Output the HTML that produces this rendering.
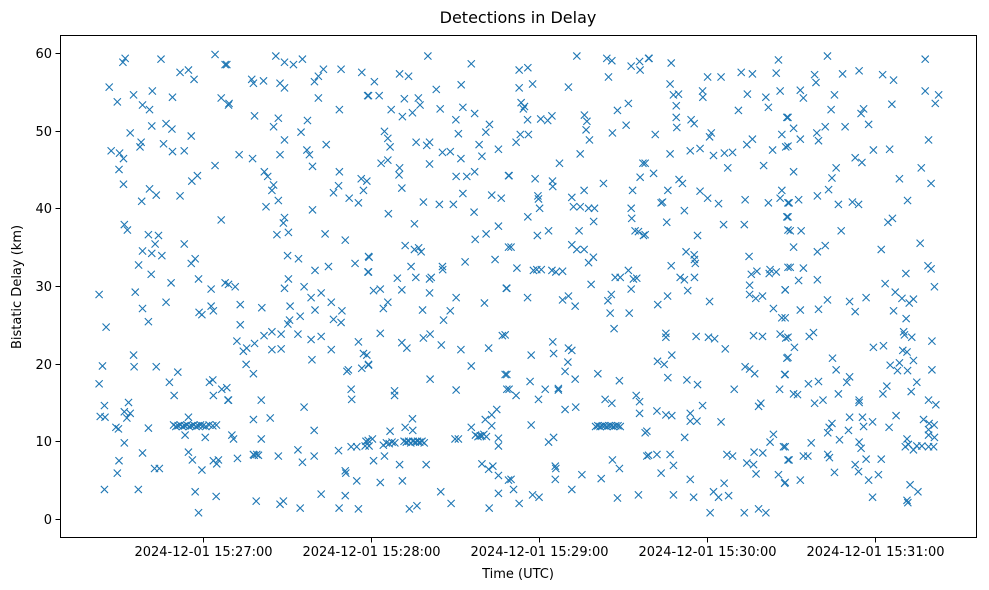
<!DOCTYPE html>
<html><head><meta charset="utf-8"><style>
html,body{margin:0;padding:0;background:#fff;}
svg{display:block;font-family:"DejaVu Sans","Liberation Sans",sans-serif;}
</style></head><body>
<svg id="chart" width="989" height="590" viewBox="0 0 989 590" xmlns="http://www.w3.org/2000/svg">
<rect x="0" y="0" width="989" height="590" fill="#fff"/>
<text x="518" y="23" text-anchor="middle" font-size="16" fill="#000">Detections in Delay</text>
<text x="518" y="578" text-anchor="middle" font-size="13" fill="#000">Time (UTC)</text>
<text x="21" y="287" text-anchor="middle" font-size="13" fill="#000" transform="rotate(-90 21 287)">Bistatic Delay (km)</text>
<g id="marks"></g>
<g id="axes"></g>
<rect x="60.5" y="35.5" width="916" height="502" fill="none" stroke="#000" stroke-width="1"/>
</svg>
<script>
const xTickSeconds = [60, 120, 180, 240, 300];
const xTickLabels = ["2024-12-01 15:27:00","2024-12-01 15:28:00","2024-12-01 15:29:00","2024-12-01 15:30:00","2024-12-01 15:31:00"];
const yTickValues = [0, 10, 20, 30, 40, 50, 60];
const yTickLabels = ["0","10","20","30","40","50","60"];

const segmentA = [[32.2,59.3],[31.4,58.8],[45.0,59.2],[64.3,59.8],[67.9,58.5],[51.8,57.5],[54.8,57.8],[56.8,56.6],[26.5,55.6],[29.4,53.7],[35.2,54.6],[38.4,53.3],[41.9,55.1],[40.9,52.7],[49.1,54.3],[66.5,54.2],[69.1,53.3],[34.0,49.7],[41.7,50.6],[46.8,50.9],[48.9,50.2],[55.8,49.3],[37.9,48.5],[37.5,47.9],[45.9,48.3],[49.1,47.3],[53.3,47.4],[27.2,47.4],[30.2,47.1],[31.6,46.4],[30.0,45.0],[64.3,45.5],[31.6,43.1],[58.0,44.2],[56.0,43.5],[40.9,42.5],[43.3,41.7],[38.1,40.9],[51.8,41.6],[66.5,38.5],[31.9,37.9],[33.0,37.2],[40.5,36.6],[44.1,36.5],[42.9,35.4],[38.4,34.5],[41.7,34.2],[45.3,33.9],[53.3,35.4],[37.0,32.7],[41.5,31.5],[57.2,33.5],[55.8,32.9],[58.4,30.9],[48.6,30.4],[62.9,29.6],[67.9,30.4],[22.9,28.9],[35.8,29.2],[46.8,27.9],[38.4,27.1],[62.9,27.4],[63.7,26.8],[58.6,26.6],[59.6,26.3],[40.5,25.4],[25.4,24.7],[35.2,21.1],[24.1,19.7],[35.4,19.6],[43.3,19.6],[51.0,18.9],[22.9,17.4],[48.0,17.6],[62.3,17.6],[63.5,17.9],[66.7,16.7],[49.7,15.9],[63.7,15.9],[68.9,15.3],[24.8,14.6],[33.4,15.0],[23.3,13.2],[25.0,13.1],[31.9,13.8],[34.0,13.6],[32.8,13.0],[28.9,11.8],[29.8,11.6],[40.5,11.7],[54.8,13.1],[53.6,10.8],[60.8,10.5],[31.9,9.8],[38.4,8.5],[54.8,8.6],[56.2,7.6],[63.7,7.5],[65.5,7.6],[64.9,7.1],[30.0,7.5],[29.4,5.9],[42.7,6.5],[44.4,6.5],[59.6,6.3],[24.8,3.8],[36.9,3.8],[57.2,3.5],[64.7,2.9],[58.4,0.8],
[49.5,12.1],[50.3,11.9],[51.1,12.0],[51.9,12.1],[52.7,11.9],[53.5,12.0],[54.3,12.1],[55.1,11.9],[55.9,12.0],[56.7,12.1],[57.5,11.9],[58.3,12.0],[59.1,12.1],[60.0,12.0],[61.0,11.9],[62.2,12.1],[63.5,12.0],[64.8,12.1]];

const segmentB = [[86.0,59.6],[89.1,58.8],[92.3,58.5],[95.5,59.2],[103.0,57.9],[109.3,57.9],[116.7,57.5],[68.5,58.5],[77.4,56.6],[78.0,56.1],[81.6,56.4],[87.5,56.1],[89.1,55.5],[99.8,56.3],[101.2,57.0],[101.2,54.2],[118.8,54.5],[69.3,53.5],[108.7,52.7],[78.4,51.9],[86.9,51.6],[85.2,50.5],[97.3,51.3],[95.0,49.8],[89.1,48.8],[104.0,48.2],[72.9,46.9],[77.7,46.4],[87.5,46.9],[97.1,47.5],[98.0,46.9],[99.1,45.4],[81.9,44.7],[83.1,44.1],[85.2,43.0],[84.6,42.3],[86.9,41.0],[82.5,40.2],[108.7,44.7],[108.4,42.9],[106.6,42.0],[112.2,41.3],[115.5,40.7],[116.5,43.8],[117.3,42.3],[99.1,39.8],[89.1,38.8],[88.7,38.1],[90.5,36.9],[86.4,36.6],[103.6,36.7],[110.8,35.9],[90.2,33.9],[94.1,33.5],[100.0,32.0],[104.8,32.5],[114.3,32.9],[119.1,33.8],[118.9,31.8],[69.1,30.2],[71.5,29.9],[90.5,30.9],[89.1,29.7],[96.1,29.9],[98.6,28.5],[102.2,29.1],[105.8,27.9],[73.3,27.6],[81.0,27.2],[91.1,27.4],[100.0,26.9],[109.6,26.8],[106.6,25.7],[109.3,25.3],[94.7,26.1],[90.9,25.6],[90.3,25.1],[73.3,25.0],[84.6,24.1],[81.8,23.6],[87.9,23.8],[93.9,23.8],[98.6,23.1],[102.2,23.5],[72.1,22.9],[78.4,22.6],[74.4,21.6],[75.6,22.0],[84.6,21.8],[87.9,21.9],[105.8,21.8],[115.5,22.8],[117.3,21.3],[98.9,20.5],[75.4,19.9],[78.0,18.7],[111.4,19.0],[111.9,19.2],[116.7,19.4],[119.1,19.9],[68.5,16.9],[69.1,15.3],[112.9,16.7],[113.1,15.4],[80.8,15.3],[96.1,14.4],[78.0,12.8],[84.0,13.0],[70.3,10.8],[70.9,10.3],[80.8,10.3],[99.7,11.4],[72.3,7.8],[78.0,8.3],[79.2,8.3],[86.9,8.1],[93.9,8.9],[95.5,7.3],[99.7,8.1],[108.4,8.8],[112.9,9.3],[114.9,9.3],[117.9,9.4],[119.3,9.4],[110.8,6.2],[111.0,5.9],[114.9,4.9],[79.0,2.3],[87.5,1.9],[88.7,2.3],[94.7,1.4],[102.2,3.2],[110.8,3.0],[108.6,1.4],[115.5,1.3],[78.3,8.2],[79.8,8.2]];

const segmentC = [[140.3,59.6],[155.8,58.6],[130.2,57.3],[133.4,57.0],[121.2,56.3],[119.1,54.5],[122.9,54.5],[143.3,55.3],[152.2,55.9],[131.9,54.1],[136.9,54.2],[137.5,53.3],[127.2,52.7],[131.2,51.8],[134.8,52.3],[144.7,52.8],[152.8,53.0],[157.0,52.2],[150.3,51.4],[162.3,50.8],[161.0,49.8],[124.8,49.9],[126.0,49.0],[126.8,47.9],[151.2,49.6],[136.1,48.5],[139.9,48.1],[140.9,48.5],[158.6,48.2],[165.5,47.6],[145.5,47.2],[148.3,47.3],[152.1,46.4],[159.6,46.7],[123.6,45.8],[126.0,46.2],[130.2,45.2],[130.0,44.3],[131.0,42.6],[140.9,45.7],[150.4,44.1],[154.2,44.1],[157.0,44.7],[118.5,43.5],[169.1,44.2],[152.8,41.9],[163.1,41.7],[166.5,41.3],[138.7,40.8],[144.4,40.5],[149.4,40.5],[156.8,39.5],[126.2,39.3],[135.5,38.0],[157.2,36.0],[161.1,36.7],[165.5,37.7],[132.2,35.2],[135.5,34.7],[137.0,34.9],[137.9,34.4],[119.3,33.7],[134.3,32.5],[145.5,32.5],[145.6,32.1],[153.6,33.1],[164.3,33.4],[169.1,35.0],[119.1,31.8],[129.4,31.0],[136.0,31.1],[140.9,30.9],[141.5,31.1],[131.0,29.5],[140.9,29.1],[120.9,29.4],[123.3,29.6],[126.0,27.9],[124.4,27.1],[150.4,28.5],[148.3,26.8],[145.9,25.6],[138.4,26.9],[160.5,27.8],[168.3,29.7],[123.3,23.9],[131.0,22.7],[132.8,22.0],[138.7,23.3],[141.1,23.8],[145.1,22.4],[152.1,21.8],[162.0,22.0],[166.9,23.6],[118.5,21.1],[119.1,19.8],[155.8,19.7],[141.1,18.0],[128.4,16.5],[128.4,15.9],[150.4,16.6],[167.9,18.6],[168.5,16.7],[164.9,14.1],[163.1,13.4],[160.8,12.8],[155.8,11.8],[134.8,12.9],[132.2,11.8],[134.9,11.4],[126.8,11.3],[163.1,12.0],[165.5,10.4],[165.5,9.4],[120.5,10.3],[124.4,9.5],[150.0,10.3],[151.2,10.3],[159.6,10.7],[120.9,7.5],[124.8,8.1],[130.2,7.0],[139.7,7.0],[159.6,7.1],[163.5,6.8],[162.0,6.4],[165.5,5.6],[169.1,5.0],[123.3,4.7],[131.2,4.9],[144.9,3.5],[148.6,2.0],[165.5,3.3],[162.2,1.4],[133.7,1.3],[136.4,1.7],
[118.2,10.0],[119.0,10.1],[125.5,9.8],[126.5,9.7],[127.5,9.9],[128.5,9.8],[131.8,10.0],[132.6,9.9],[133.4,10.0],[134.2,9.8],[135.0,10.0],[135.8,9.9],[136.6,10.0],[137.4,9.9],[138.2,10.0],[139.0,9.8],[157.3,10.8],[158.2,10.6],[159.0,10.7],[160.3,10.9],[161.2,10.6]];

const segmentD = [[193.5,59.6],[204.2,59.3],[206.0,59.0],[172.9,57.8],[176.0,58.1],[212.9,58.3],[215.9,58.9],[216.1,57.8],[219.1,59.3],[204.8,56.9],[172.9,55.5],[177.7,56.0],[190.5,55.6],[173.6,53.6],[174.8,53.1],[174.4,52.8],[175.9,51.4],[180.6,51.5],[183.1,51.3],[184.6,51.9],[196.2,52.0],[197.1,51.2],[196.8,50.1],[198.0,48.8],[208.0,52.6],[211.9,53.5],[211.1,50.7],[206.2,49.7],[173.3,49.5],[176.2,49.5],[171.8,48.5],[194.7,47.0],[187.3,45.8],[217.1,45.8],[169.3,44.2],[178.6,43.8],[184.8,43.5],[184.9,42.8],[196.1,42.3],[203.0,43.2],[216.1,44.0],[213.4,42.3],[179.6,41.6],[179.8,41.2],[180.2,40.0],[191.7,41.4],[192.3,40.2],[194.7,40.2],[197.7,40.0],[199.8,40.0],[199.5,38.3],[212.9,40.0],[213.1,38.7],[176.0,38.9],[179.4,36.5],[183.4,37.1],[194.3,37.1],[214.3,37.1],[215.5,37.0],[217.3,36.5],[170.0,35.0],[191.7,35.3],[193.5,34.7],[196.1,34.7],[199.4,33.7],[197.7,33.0],[172.1,32.3],[178.0,32.0],[179.2,32.1],[180.8,32.1],[184.6,32.0],[186.0,31.8],[188.4,31.9],[207.2,31.1],[209.0,31.1],[211.9,32.0],[213.7,30.9],[214.9,31.0],[168.5,29.7],[198.6,30.2],[212.9,29.6],[175.9,28.5],[188.4,28.2],[190.5,28.7],[192.9,27.4],[205.8,28.9],[204.6,28.1],[205.4,26.5],[212.2,26.5],[206.8,24.5],[167.9,23.7],[184.9,22.8],[185.2,21.3],[177.2,21.1],[190.5,22.0],[191.7,21.7],[190.3,20.2],[189.3,19.0],[192.9,18.0],[201.0,18.7],[208.7,17.8],[168.5,18.6],[169.3,16.7],[171.8,15.9],[176.8,17.7],[182.2,16.7],[186.9,16.8],[179.8,15.4],[186.9,16.6],[189.3,14.1],[193.1,14.4],[203.6,15.4],[206.0,14.9],[214.7,15.9],[215.9,15.1],[215.9,13.6],[177.2,12.1],[185.2,10.5],[183.4,9.9],[217.9,11.1],[218.5,8.1],[206.2,7.6],[208.7,6.5],[185.8,6.8],[186.0,6.5],[185.8,5.1],[195.3,5.7],[202.2,5.2],[170.0,5.1],[170.9,3.8],[172.9,2.0],[177.7,3.1],[180.0,2.8],[191.7,3.8],[208.0,2.7],[215.5,3.1],
[200.2,11.9],[201.0,12.0],[201.8,11.9],[202.6,12.0],[203.4,12.0],[204.2,11.9],[205.0,12.0],[205.8,12.0],[206.6,11.9],[207.4,12.0],[208.2,12.0],[209.0,11.9]];

const segmentE = [[219.3,59.3],[227.2,58.7],[265.5,59.1],[226.8,56.0],[240.2,56.9],[245.0,56.9],[252.2,57.5],[256.2,57.3],[264.7,57.4],[228.0,54.6],[229.8,54.7],[229.0,53.2],[238.4,55.1],[238.5,54.3],[254.4,54.7],[261.0,54.3],[261.9,53.0],[266.1,55.1],[251.2,52.6],[229.0,51.7],[229.2,50.4],[234.3,51.4],[235.4,50.9],[268.5,51.7],[221.5,49.5],[241.5,49.7],[240.9,49.2],[256.2,48.9],[254.2,48.2],[266.7,49.5],[268.1,47.9],[226.8,47.0],[234.0,47.4],[237.5,47.7],[242.3,46.8],[246.2,47.1],[249.1,47.2],[263.4,47.5],[217.9,45.8],[220.9,44.5],[247.4,45.2],[260.2,45.5],[230.0,43.7],[231.2,43.2],[226.0,42.3],[237.5,42.2],[240.2,41.3],[223.6,40.7],[224.1,40.8],[244.1,40.6],[253.6,41.1],[261.9,40.7],[266.7,42.3],[266.1,41.3],[268.9,40.7],[231.9,39.7],[225.6,38.2],[245.9,37.9],[253.3,37.9],[268.5,38.9],[217.9,36.6],[236.6,36.5],[268.9,37.2],[232.5,34.4],[235.4,34.0],[235.5,33.4],[235.8,32.9],[227.2,32.6],[255.0,33.8],[255.8,31.5],[257.8,31.9],[262.5,32.1],[264.7,31.8],[262.2,31.6],[268.9,32.4],[230.4,31.1],[231.9,30.8],[235.5,31.1],[233.1,29.4],[255.2,30.1],[255.2,28.9],[257.4,28.4],[259.8,28.7],[263.7,27.1],[266.7,25.9],[267.9,29.5],[225.9,28.7],[222.4,27.6],[240.9,28.0],[225.3,23.9],[225.3,23.4],[236.1,23.5],[240.5,23.4],[242.7,23.2],[246.5,21.9],[256.6,23.6],[259.8,23.5],[266.1,23.8],[268.1,23.3],[227.4,21.1],[222.3,20.3],[224.7,19.9],[226.0,18.2],[268.5,20.7],[253.6,19.6],[255.2,19.3],[257.0,18.7],[267.7,18.6],[232.8,17.9],[236.6,17.3],[249.7,16.7],[265.9,16.7],[238.4,14.6],[222.1,13.9],[225.3,13.4],[227.4,13.3],[234.0,13.6],[234.0,12.6],[236.4,12.6],[245.0,12.5],[258.4,14.5],[259.2,14.9],[218.5,11.3],[232.0,10.5],[263.7,10.9],[262.5,9.9],[267.3,9.3],[219.1,8.2],[222.1,8.3],[226.8,8.3],[228.0,6.9],[223.6,5.9],[247.1,8.3],[249.1,8.1],[256.8,8.6],[259.9,8.5],[254.2,7.2],[256.6,7.0],[257.5,5.8],[265.5,5.7],[267.7,4.6],[268.9,7.6],[234.0,5.1],[246.1,4.6],[228.0,3.1],[235.2,2.8],[242.3,3.5],[244.1,2.8],[247.7,3.0],[241.1,0.8],[253.3,0.8],[258.4,1.3],[261.0,0.8]];

const segmentF = [[283.0,59.6],[317.9,59.2],[278.4,57.2],[278.9,56.2],[288.4,57.3],[294.3,57.7],[302.7,57.2],[306.6,56.5],[273.3,55.2],[274.4,54.2],[285.5,54.6],[317.9,55.1],[322.7,54.6],[321.5,53.5],[306.0,53.4],[284.3,52.7],[295.9,52.8],[295.0,52.2],[268.9,51.7],[270.9,50.3],[279.2,49.7],[279.8,48.7],[282.2,50.5],[289.3,50.5],[297.7,50.8],[273.3,48.9],[268.9,48.0],[319.1,48.8],[299.4,47.5],[305.2,47.6],[292.9,46.5],[295.3,45.9],[286.1,45.2],[284.6,43.9],[270.9,44.7],[308.7,43.8],[316.5,45.2],[320.0,43.2],[283.4,42.4],[279.4,41.6],[272.7,41.1],[269.3,40.7],[286.9,40.5],[291.9,40.8],[294.1,40.5],[311.6,41.0],[268.9,38.9],[304.6,38.2],[306.2,38.7],[269.7,37.1],[273.6,37.1],[287.9,37.1],[270.9,35.0],[279.4,34.4],[282.2,35.2],[302.2,34.7],[316.1,35.5],[269.7,32.4],[274.4,32.3],[311.0,31.6],[318.9,32.6],[320.0,32.2],[272.7,30.7],[279.4,30.8],[267.9,29.5],[303.6,30.3],[307.2,29.2],[309.6,28.4],[313.7,28.3],[312.2,27.8],[321.2,29.9],[283.0,28.2],[290.9,28.0],[296.8,28.5],[273.3,26.9],[279.8,27.0],[292.9,26.7],[306.6,26.8],[311.1,25.8],[267.9,25.9],[268.9,23.4],[271.2,22.1],[276.5,23.5],[278.0,24.0],[299.4,22.1],[303.0,22.3],[310.2,24.1],[310.5,23.7],[313.1,23.4],[320.3,22.9],[309.9,21.7],[311.4,21.5],[268.9,20.8],[284.8,20.7],[286.1,19.2],[290.9,18.3],[289.9,17.6],[305.4,19.8],[308.7,20.1],[313.7,20.4],[308.0,19.1],[311.6,19.1],[320.3,19.2],[267.9,18.6],[276.2,17.4],[279.8,17.7],[314.9,17.6],[312.9,16.4],[304.2,17.1],[302.8,16.1],[286.9,16.1],[270.9,16.1],[272.3,16.0],[278.4,14.9],[281.4,15.3],[294.3,15.3],[294.3,15.0],[319.1,15.3],[321.7,14.7],[290.9,13.1],[295.5,13.1],[299.1,12.5],[307.5,13.3],[284.6,12.3],[283.6,11.8],[283.1,11.1],[290.5,11.4],[295.9,11.9],[305.0,11.8],[317.3,12.8],[319.3,12.3],[321.1,12.1],[319.1,11.5],[321.2,10.5],[319.1,10.8],[287.3,10.2],[294.3,9.9],[295.0,9.1],[277.2,9.8],[311.4,10.3],[310.8,9.3],[311.9,9.6],[313.7,8.9],[314.9,9.4],[316.7,9.4],[319.1,9.3],[320.9,9.3],[267.9,9.3],[269.3,7.6],[274.4,8.1],[276.0,8.1],[283.1,8.3],[283.7,7.9],[296.8,7.7],[302.2,7.7],[292.9,7.0],[294.1,6.1],[297.7,5.0],[301.2,5.7],[285.5,6.0],[273.3,5.0],[267.9,4.7],[299.1,2.8],[312.5,4.4],[315.3,3.5],[311.4,2.4],[311.7,2.1]];

const NS = "http://www.w3.org/2000/svg";
const plotLeft = 60, plotRight = 977, plotTop = 35, plotBottom = 538;
const xMin = 8.93, xMax = 336.4;
const yMin = -2.45, yMax = 62.31;
function xScale(t){ return plotLeft + (t - xMin) / (xMax - xMin) * (plotRight - plotLeft); }
function yScale(v){ return plotBottom - (v - yMin) / (yMax - yMin) * (plotBottom - plotTop); }

const marks = document.getElementById('marks');
const axes = document.getElementById('axes');
const all = [segmentA, segmentB, segmentC, segmentD, segmentE, segmentF];
const r = 3.6;
all.forEach(function(seg){
  seg.forEach(function(p){
    const cx = xScale(p[0]), cy = yScale(p[1]);
    const path = document.createElementNS(NS, 'path');
    path.setAttribute('d', 'M' + (cx - r) + ' ' + (cy - r) + 'L' + (cx + r) + ' ' + (cy + r) + 'M' + (cx - r) + ' ' + (cy + r) + 'L' + (cx + r) + ' ' + (cy - r));
    path.setAttribute('stroke', '#1f77b4');
    path.setAttribute('stroke-width', '1.1');
    path.setAttribute('fill', 'none');
    
    
    marks.appendChild(path);
  });
});

xTickSeconds.forEach(function(s, i){
  const x = Math.round(xScale(s)) + 0.5;
  const tick = document.createElementNS(NS, 'line');
  tick.setAttribute('x1', x); tick.setAttribute('x2', x);
  tick.setAttribute('y1', plotBottom); tick.setAttribute('y2', plotBottom + 4.5);
  tick.setAttribute('stroke', '#000');
  
  
  axes.appendChild(tick);
  const lbl = document.createElementNS(NS, 'text');
  lbl.setAttribute('x', x); lbl.setAttribute('y', plotBottom + 18);
  lbl.setAttribute('text-anchor', 'middle');
  lbl.setAttribute('font-size', '13');
  lbl.textContent = xTickLabels[i];
  
  
  axes.appendChild(lbl);
});

yTickValues.forEach(function(v, i){
  const y = Math.round(yScale(v)) + 0.5;
  const tick = document.createElementNS(NS, 'line');
  tick.setAttribute('x1', plotLeft - 4.5); tick.setAttribute('x2', plotLeft);
  tick.setAttribute('y1', y); tick.setAttribute('y2', y);
  tick.setAttribute('stroke', '#000');
  
  
  axes.appendChild(tick);
  const lbl = document.createElementNS(NS, 'text');
  lbl.setAttribute('x', plotLeft - 8); lbl.setAttribute('y', y + 4.5);
  lbl.setAttribute('text-anchor', 'end');
  lbl.setAttribute('font-size', '13');
  lbl.textContent = yTickLabels[i];
  
  
  axes.appendChild(lbl);
});
</script>
</body></html>
